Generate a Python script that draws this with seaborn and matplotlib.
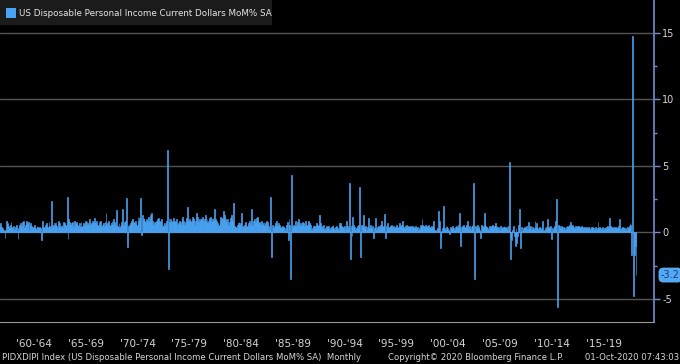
import numpy as np
import pandas as pd
import matplotlib
matplotlib.use("Agg")
import matplotlib.pyplot as plt
from matplotlib.patches import Rectangle
import seaborn as sns

# ---- data: US Disposable Personal Income MoM% SA, monthly from Feb-1959 ----
y1959 = [0.6, 0.5, 0.7, 0.4, 0.3, 0.2, 0.1, -0.45, 0.2, 0.9, 0.7]
y1960 = [0.5, 0.3, 0.6, 0.8, 0.4, 0.3, 0.5, 0.2, 0.4, 0.6, 0.1, -0.5]
y1961 = [0.3, 0.6, 0.7, 0.5, 0.8, 0.9, 0.4, 0.3, 0.6, 0.9, 0.7, 0.8]
y1962 = [0.2, 0.6, 0.7, 0.5, 0.3, 0.4, 0.6, 0.3, 0.2, 0.5, 0.4, 0.3]
y1963 = [0.4, 0.3, -0.55, 0.9, 0.5, 0.4, 0.3, 0.6, 0.7, 0.4, 0.3, 0.8]
y1964 = [0.5, 0.4, 2.4, 0.6, 0.5, 0.7, 0.6, 0.8, 0.5, 0.3, 0.9, 0.7]
y1965 = [0.4, 0.5, 0.6, 0.3, 0.8, 0.7, 0.6, 0.5, 2.7, -0.5, 1.0, 0.8]
y1966 = [0.6, 0.7, 0.8, 0.4, 0.5, 0.9, 0.7, 0.8, 0.6, 0.5, 0.7, 0.4]
y1967 = [0.8, 0.4, 0.5, 0.7, 0.6, 0.9, 0.8, 0.5, 0.6, 0.7, 1.0, 0.6]
y1968 = [0.7, 0.9, 0.6, 0.8, 1.1, 0.7, 0.9, 0.6, 0.5, 0.8, 0.7, 0.9]
y1969 = [0.4, 0.6, 0.7, 0.5, 0.8, 1.5, 0.6, 0.7, 0.9, 0.6, 0.5, 0.7]
y1970 = [0.9, 0.6, 1.0, 0.8, 0.6, 1.7, 0.5, 0.4, 0.7, 0.3, 0.5, 0.8]
y1971 = [1.75, 0.6, 0.8, 0.7, 0.9, 2.6, -1.1, 0.5, 0.6, 0.7, 0.8, 0.9]
y1972 = [1.0, 0.8, 0.7, 0.9, 0.6, 0.5, 1.2, 0.9, 1.1, 2.6, -0.2, 1.3]
y1973 = [1.0, 1.1, 0.9, 0.8, 1.0, 0.9, 1.2, 0.8, 1.1, 1.3, 1.5, 0.9]
y1974 = [0.6, 0.8, 0.7, 0.9, 0.8, 1.0, 1.1, 0.9, 0.8, 1.0, 0.5, 0.6]
y1975 = [0.4, 0.7, 0.6, 0.9, 6.2, -2.75, 1.1, 0.8, 1.0, 0.9, 0.8, 1.1]
y1976 = [0.9, 0.7, 0.8, 1.0, 0.6, 0.7, 0.9, 0.8, 0.6, 1.0, 1.2, 0.9]
y1977 = [0.6, 0.8, 1.1, 1.9, 0.7, 0.9, 1.0, 0.8, 0.9, 1.2, 1.0, 1.1]
y1978 = [0.5, 0.9, 1.5, 1.2, 0.8, 1.0, 0.9, 1.1, 1.0, 1.2, 0.9, 1.0]
y1979 = [1.3, 0.8, 1.0, 0.7, 0.9, 1.1, 1.2, 0.8, 1.0, 1.1, 0.9, 1.75]
y1980 = [1.0, 0.9, 0.7, 0.5, 0.6, 0.9, 1.2, 1.1, 1.0, 1.6, 1.3, 1.0]
y1981 = [0.9, 0.8, 1.0, 0.6, 0.8, 1.1, 1.3, 1.0, 0.9, 2.2, 0.5, 0.4]
y1982 = [0.3, 0.6, 0.7, 0.8, 0.6, 0.7, 1.5, 0.4, 0.5, 0.6, 0.7, 0.8]
y1983 = [0.4, 0.5, 0.7, 0.9, 0.6, 0.8, 1.8, 0.5, 0.9, 1.0, 0.8, 1.1]
y1984 = [1.2, 1.0, 0.7, 0.8, 0.6, 0.9, 0.7, 0.6, 0.8, 0.5, 0.7, 0.9]
y1985 = [0.8, 0.5, 0.2, 0.9, 2.65, -1.85, 0.6, 0.3, 0.5, 0.7, 0.6, 0.9]
y1986 = [0.5, 0.7, 0.6, 0.4, 0.3, 0.5, 0.2, 0.4, 0.3, 0.1, 0.6, 0.8]
y1987 = [-0.6, 1.0, 0.6, -3.5, 4.3, 0.4, 0.6, 0.5, 0.3, 0.9, 0.5, 0.8]
y1988 = [1.0, 0.6, 0.7, 0.5, 0.6, 0.8, 0.7, 0.5, 0.9, 0.6, 0.5, 0.8]
y1989 = [0.9, 0.7, 0.6, 0.2, 0.3, 0.5, 0.6, 0.4, 0.5, 0.7, 0.6, 0.5]
y1990 = [1.35, 0.7, 0.4, 0.5, 0.3, 0.6, 0.2, 0.3, 0.5, 0.1, 0.4, 0.5]
y1991 = [0.2, 0.3, 0.4, 0.5, 0.6, 0.3, 0.2, 0.4, 0.5, 0.3, 0.2, 0.7]
y1992 = [0.6, 0.7, 0.5, 0.4, 0.3, 0.5, 0.2, 0.4, 0.9, 0.5, 0.3, 3.7]
y1993 = [-2.0, 0.5, -0.3, 1.2, 0.6, 0.4, 0.2, 0.3, 0.5, 0.6, 0.4, 3.4]
y1994 = [-1.85, 0.6, 0.5, 1.3, 0.4, 0.3, 0.5, 0.2, 0.4, 1.1, 0.3, 0.6]
y1995 = [0.4, 0.3, 0.5, -0.45, 0.3, 1.1, 0.2, 0.4, 0.3, 0.5, 0.4, 0.6]
y1996 = [0.9, 0.5, 0.4, 0.6, 1.4, -0.4, 0.5, 0.7, 0.3, 0.4, 0.2, 0.5]
y1997 = [0.6, 0.4, 0.5, 0.3, 0.4, 0.5, 0.6, 0.3, 0.4, 0.7, 0.5, 0.6]
y1998 = [0.9, 0.5, 0.4, 0.3, 0.5, 0.6, 0.4, 0.5, 0.3, 0.4, 0.5, 0.4]
y1999 = [0.5, 0.4, 0.3, 0.4, 0.5, 0.3, 0.4, 0.2, 0.3, 0.6, 0.5, 1.0]
y2000 = [0.6, 0.5, 0.4, 0.6, 0.5, 0.4, 0.5, 0.6, 0.4, 0.3, 0.5, 0.4]
y2001 = [0.9, 0.3, 0.2, 0.1, 0.2, 0.3, 1.65, 0.9, -1.2, -0.4, 0.1, 0.3]
y2002 = [2.0, 0.3, 0.2, 0.4, 0.5, 0.3, 0.2, -0.1, 0.4, 0.3, 0.5, 0.2]
y2003 = [0.3, 0.2, 0.4, 0.5, 0.3, 0.6, 1.45, 0.3, -1.0, 0.4, 0.5, 0.6]
y2004 = [0.4, 0.3, 0.5, 0.6, 0.9, 0.3, 0.5, 0.2, 0.4, 0.6, 0.5, 3.7]
y2005 = [-3.5, 0.5, 0.4, 0.6, 0.3, 0.5, 0.2, -0.4, 0.6, 0.5, 0.4, 1.5]
y2006 = [0.8, 0.5, 0.4, 0.3, 0.2, 0.5, 0.4, 0.3, 0.5, 0.6, 0.4, 0.5]
y2007 = [0.7, 0.4, 0.5, 0.3, 0.4, 0.2, 0.5, 0.3, 0.4, 0.3, 0.5, 0.4]
y2008 = [0.3, 0.4, 0.2, 0.5, 5.3, -0.4, -2.0, -0.6, 0.2, 0.5, -0.3, -1.0]
y2009 = [0.3, -0.8, -0.3, 0.6, 1.8, -1.15, 0.4, 0.1, 0.2, 0.3, 0.4, 0.3]
y2010 = [0.5, 0.2, 0.8, 0.4, 0.3, 0.5, 0.2, 0.4, 0.3, 0.2, 0.9, 0.4]
y2011 = [0.7, 0.3, 0.2, 0.4, 0.3, 0.2, 0.5, 0.9, 0.1, 0.2, 0.3, 0.4]
y2012 = [1.0, 0.4, 0.3, 0.4, 0.5, -0.5, 0.3, 0.2, 0.4, 0.5, 0.9, 2.5]
y2013 = [-5.6, 0.6, 0.5, 0.3, 0.4, 0.5, 0.3, 0.4, 0.3, 0.2, 0.4, 0.3]
y2014 = [0.5, 0.4, 0.6, 0.8, 0.5, 0.6, 0.5, 0.4, 0.3, 0.5, 0.4, 0.5]
y2015 = [0.5, 0.4, 0.3, 0.4, 0.5, 0.4, 0.3, 0.4, 0.3, 0.2, 0.4, 0.3]
y2016 = [0.4, 0.3, 0.2, 0.4, 0.3, 0.4, 0.3, 0.2, 0.4, 0.3, 0.2, 0.8]
y2017 = [0.3, 0.4, 0.3, 0.2, 0.4, 0.3, 0.2, 0.4, 0.3, 0.4, 0.5, 0.4]
y2018 = [1.1, 0.5, 0.3, 0.4, 0.3, 0.4, 0.3, 0.4, 0.3, 0.4, 0.3, 0.5]
y2019 = [1.05, 0.2, 0.3, 0.4, 0.3, 0.4, 0.2, 0.3, 0.2, 0.4, 0.3, 0.5]
y2020 = [0.7, 0.6, -1.7, 14.8, -4.8, -1.7, -1.0, -3.2]

period_labels = ["'60-'64", "'65-'69", "'70-'74", "'75-'79", "'80-'84", "'85-'89",
                 "'90-'94", "'95-'99", "'00-'04", "'05-'09", "'10-'14", "'15-'19"]
y_ticks = [-5, 0, 5, 10, 15]
last_value = -3.2

years = [y1959, y1960, y1961, y1962, y1963, y1964, y1965, y1966, y1967, y1968,
         y1969, y1970, y1971, y1972, y1973, y1974, y1975, y1976, y1977, y1978,
         y1979, y1980, y1981, y1982, y1983, y1984, y1985, y1986, y1987, y1988,
         y1989, y1990, y1991, y1992, y1993, y1994, y1995, y1996, y1997, y1998,
         y1999, y2000, y2001, y2002, y2003, y2004, y2005, y2006, y2007, y2008,
         y2009, y2010, y2011, y2012, y2013, y2014, y2015, y2016, y2017, y2018,
         y2019, y2020]
values = [v for yr in years for v in yr]
df = pd.DataFrame({"idx": np.arange(len(values)), "val": values})

# ---- style ----
BG = "#000000"
BAR = "#4aa4f5"
GRID = "#555555"
SPINE = "#7090d0"
TXT = "#d6d6d6"

sns.set_style("dark")
plt.rcParams["font.family"] = ["DejaVu Sans"]

fig = plt.figure(figsize=(6.8, 3.64), dpi=100, facecolor=BG)
ax = fig.add_axes([0.0, 42 / 364, 654 / 680, 322 / 364])
ax.set_facecolor(BG)

# gridlines
for t in y_ticks:
    ax.axhline(t, color=GRID, lw=1.0, zorder=0)

sns.barplot(data=df, x="idx", y="val", native_scale=True, width=1.0,
            color=BAR, saturation=1, linewidth=0.45, edgecolor=BAR,
            errorbar=None, ax=ax, zorder=2)

ax.set_xlim(1.2, 758.8)
ax.set_ylim(-6.73, 17.48)
ax.set_xlabel("")
ax.set_ylabel("")

# y axis on the right
ax.yaxis.tick_right()
ax.set_yticks(y_ticks)
ax.set_yticks([-2.5, 2.5, 7.5, 12.5], minor=True)
ax.set_yticklabels([str(t) for t in y_ticks])
ax.tick_params(axis="y", which="major", direction="out", length=4, width=1,
               color=SPINE, labelcolor=TXT, labelsize=7, pad=2)
ax.tick_params(axis="y", which="minor", direction="out", length=2.5, width=1,
               color=SPINE)

# x separators and period labels
seps = [10.5 + 60 * k for k in range(13)]
mids = [s + 30 for s in seps[:-1]]
ax.set_xticks(seps)
ax.set_xticklabels([""] * len(seps))
ax.set_xticks(mids, minor=True)
ax.set_xticklabels(period_labels, minor=True)
ax.tick_params(axis="x", which="major", direction="out", length=13, width=0.8,
               color="#9a9a9a")
ax.tick_params(axis="x", which="minor", length=0, labelcolor=TXT,
               labelsize=7.5, pad=12.5)

for s in ["top", "left"]:
    ax.spines[s].set_visible(False)
ax.spines["right"].set_color(SPINE)
ax.spines["right"].set_linewidth(1.2)
ax.spines["bottom"].set_color("#9a9a9a")
ax.spines["bottom"].set_linewidth(0.8)
ax.grid(False)

# last value tag
ax.annotate(f"{last_value:.1f}", xy=(1.0, last_value), xycoords=("axes fraction", "data"),
            xytext=(5, 0), textcoords="offset points", ha="left", va="center",
            fontsize=7, color="#123f85", annotation_clip=False,
            bbox=dict(boxstyle="round,pad=0.25,rounding_size=0.5", fc="#55a8f2", ec="none"))

# title box (legend)
fig.add_artist(Rectangle((0, 1 - 25 / 364), 272 / 680, 25 / 364, transform=fig.transFigure,
                         fc="#1b1b1b", ec="none", zorder=5))
fig.add_artist(Rectangle((6 / 680, 1 - 18 / 364), 10 / 680, 10 / 364, transform=fig.transFigure,
                         fc=BAR, ec="none", zorder=6))
fig.text(19 / 680, 1 - 13 / 364, "US Disposable Personal Income Current Dollars MoM% SA",
         ha="left", va="center", fontsize=6.3, color="#e6e6e6", zorder=7)

# footer
fy = 1 - 357 / 364
fig.text(2 / 680, fy, "PIDXDIPI Index (US Disposable Personal Income Current Dollars MoM% SA)  Monthly",
         ha="left", va="center", fontsize=6.1, color=TXT)
fig.text(388 / 680, fy, "Copyright\u00a9 2020 Bloomberg Finance L.P.",
         ha="left", va="center", fontsize=6.1, color=TXT)
fig.text(679 / 680, fy, "01-Oct-2020 07:43:03",
         ha="right", va="center", fontsize=6.1, color=TXT)

fig.savefig("out.png", dpi=100, facecolor=BG)
